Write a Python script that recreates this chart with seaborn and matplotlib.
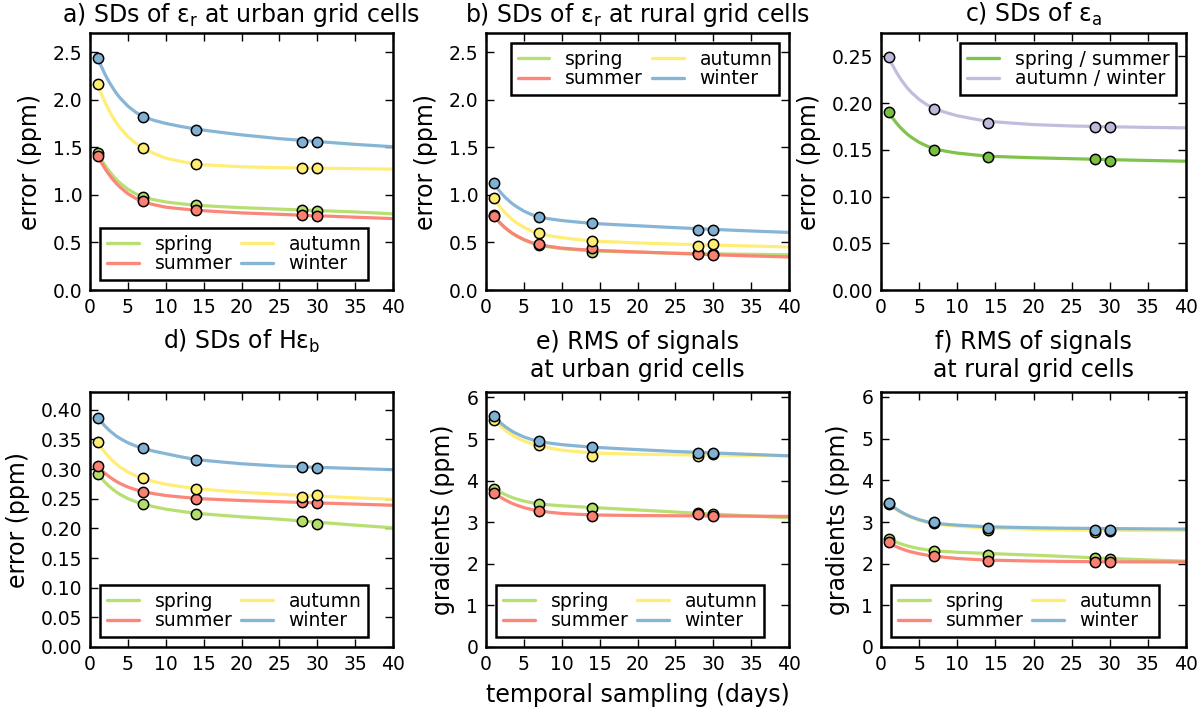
import matplotlib
matplotlib.use("Agg")
import matplotlib.pyplot as plt
import seaborn as sns

# ---------------- data ----------------
days = [1, 7, 14, 28, 30]
curve_days = [1, 1.5, 2, 2.5, 3, 3.5, 4, 5, 6, 7, 8.5, 10, 12, 14, 17, 20, 25, 30, 35, 40]
seasons = ["spring", "summer", "autumn", "winter"]
season_colors = ["#b3de69", "#fb8072", "#ffed6f", "#80b1d3"]
c_groups = ["spring / summer", "autumn / winter"]
c_colors = ["#78c040", "#bebada"]

# a) SDs of eps_r, urban
a_spring_pts = [1.44, 0.98, 0.89, 0.84, 0.83]
a_summer_pts = [1.41, 0.93, 0.84, 0.79, 0.78]
a_autumn_pts = [2.16, 1.49, 1.32, 1.28, 1.28]
a_winter_pts = [2.44, 1.82, 1.68, 1.56, 1.56]
a_spring_fit = [1.44, 1.370, 1.307, 1.252, 1.203, 1.159, 1.121, 1.059, 1.012, 0.975, 0.948, 0.925, 0.906, 0.89, 0.877, 0.865, 0.85, 0.835, 0.82, 0.80]
a_summer_fit = [1.41, 1.337, 1.272, 1.214, 1.163, 1.117, 1.078, 1.012, 0.964, 0.925, 0.895, 0.87, 0.853, 0.838, 0.823, 0.81, 0.795, 0.78, 0.765, 0.75]
a_autumn_fit = [2.16, 2.060, 1.969, 1.889, 1.818, 1.755, 1.701, 1.611, 1.544, 1.49, 1.432, 1.385, 1.351, 1.32, 1.307, 1.295, 1.285, 1.28, 1.275, 1.27]
a_winter_fit = [2.44, 2.347, 2.263, 2.189, 2.124, 2.065, 2.015, 1.932, 1.870, 1.82, 1.781, 1.75, 1.718, 1.69, 1.659, 1.63, 1.59, 1.56, 1.53, 1.505]

# b) SDs of eps_r, rural
b_spring_pts = [0.785, 0.47, 0.40, 0.39, 0.38]
b_summer_pts = [0.78, 0.48, 0.44, 0.375, 0.37]
b_autumn_pts = [0.965, 0.60, 0.52, 0.465, 0.485]
b_winter_pts = [1.12, 0.77, 0.70, 0.635, 0.635]
b_spring_fit = [0.78, 0.734, 0.692, 0.654, 0.622, 0.592, 0.568, 0.526, 0.495, 0.47, 0.451, 0.435, 0.423, 0.412, 0.404, 0.397, 0.387, 0.38, 0.375, 0.37]
b_summer_fit = [0.78, 0.734, 0.693, 0.656, 0.624, 0.595, 0.571, 0.530, 0.499, 0.475, 0.456, 0.44, 0.428, 0.418, 0.409, 0.40, 0.385, 0.37, 0.358, 0.347]
b_autumn_fit = [0.965, 0.909, 0.858, 0.813, 0.774, 0.738, 0.708, 0.658, 0.62, 0.59, 0.568, 0.55, 0.531, 0.515, 0.505, 0.495, 0.482, 0.472, 0.462, 0.452]
b_winter_fit = [1.12, 1.067, 1.019, 0.976, 0.939, 0.905, 0.877, 0.829, 0.793, 0.765, 0.746, 0.73, 0.714, 0.70, 0.687, 0.675, 0.655, 0.637, 0.62, 0.605]

# c) SDs of eps_a
c_ss_pts = [0.191, 0.150, 0.142, 0.140, 0.138]
c_aw_pts = [0.249, 0.194, 0.179, 0.174, 0.174]
c_ss_fit = [0.190, 0.1842, 0.1789, 0.1742, 0.1701, 0.1664, 0.1633, 0.1580, 0.1541, 0.151, 0.1485, 0.1465, 0.1448, 0.1432, 0.1423, 0.1415, 0.1405, 0.1395, 0.1386, 0.1378]
c_aw_fit = [0.249, 0.2408, 0.2333, 0.2267, 0.2210, 0.2157, 0.2113, 0.2039, 0.1984, 0.194, 0.1899, 0.1865, 0.1833, 0.1805, 0.1787, 0.177, 0.1755, 0.1747, 0.174, 0.1735]

# d) SDs of H eps_b
d_spring_pts = [0.292, 0.241, 0.224, 0.212, 0.208]
d_summer_pts = [0.305, 0.262, 0.249, 0.244, 0.242]
d_autumn_pts = [0.345, 0.285, 0.267, 0.253, 0.256]
d_winter_pts = [0.387, 0.336, 0.315, 0.304, 0.302]
d_spring_fit = [0.292, 0.2844, 0.2775, 0.2713, 0.266, 0.2611, 0.2571, 0.2502, 0.2451, 0.241, 0.2363, 0.2325, 0.2288, 0.2255, 0.2224, 0.2195, 0.2155, 0.2105, 0.2055, 0.201]
d_summer_fit = [0.305, 0.2986, 0.2927, 0.2876, 0.2831, 0.279, 0.2755, 0.2697, 0.2654, 0.262, 0.2584, 0.2555, 0.2529, 0.2505, 0.2487, 0.247, 0.245, 0.243, 0.241, 0.239]
d_autumn_fit = [0.345, 0.3359, 0.3276, 0.3203, 0.3139, 0.3081, 0.3032, 0.295, 0.2889, 0.284, 0.2788, 0.2745, 0.2705, 0.267, 0.2639, 0.261, 0.2575, 0.2545, 0.2515, 0.249]
d_winter_fit = [0.387, 0.3792, 0.3722, 0.3659, 0.3605, 0.3555, 0.3514, 0.3444, 0.3392, 0.335, 0.330, 0.326, 0.3207, 0.316, 0.3124, 0.309, 0.305, 0.303, 0.301, 0.299]

# e) RMS of signals, urban
e_spring_pts = [3.81, 3.44, 3.35, 3.21, 3.19]
e_summer_pts = [3.71, 3.28, 3.15, 3.19, 3.14]
e_autumn_pts = [5.46, 4.86, 4.60, 4.60, 4.64]
e_winter_pts = [5.56, 4.96, 4.81, 4.66, 4.66]
e_spring_fit = [3.82, 3.763, 3.712, 3.666, 3.626, 3.59, 3.56, 3.508, 3.47, 3.44, 3.415, 3.395, 3.374, 3.355, 3.324, 3.295, 3.245, 3.195, 3.15, 3.105]
e_summer_fit = [3.72, 3.653, 3.592, 3.538, 3.491, 3.448, 3.412, 3.351, 3.306, 3.27, 3.237, 3.21, 3.191, 3.175, 3.167, 3.16, 3.155, 3.15, 3.145, 3.14]
e_autumn_fit = [5.47, 5.376, 5.29, 5.215, 5.149, 5.089, 5.038, 4.953, 4.89, 4.84, 4.78, 4.73, 4.696, 4.665, 4.649, 4.635, 4.622, 4.612, 4.605, 4.598]
e_winter_fit = [5.55, 5.459, 5.376, 5.303, 5.239, 5.181, 5.132, 5.05, 4.989, 4.94, 4.899, 4.865, 4.833, 4.805, 4.774, 4.745, 4.70, 4.665, 4.63, 4.595]

# f) RMS of signals, rural
f_spring_pts = [2.60, 2.30, 2.22, 2.14, 2.11]
f_summer_pts = [2.51, 2.19, 2.06, 2.05, 2.04]
f_autumn_pts = [3.44, 2.98, 2.82, 2.76, 2.78]
f_winter_pts = [3.45, 2.99, 2.86, 2.81, 2.81]
f_spring_fit = [2.60, 2.557, 2.517, 2.483, 2.452, 2.425, 2.401, 2.362, 2.333, 2.31, 2.291, 2.275, 2.259, 2.245, 2.224, 2.205, 2.165, 2.125, 2.09, 2.06]
f_summer_fit = [2.50, 2.452, 2.409, 2.37, 2.337, 2.306, 2.281, 2.238, 2.206, 2.18, 2.15, 2.125, 2.104, 2.085, 2.074, 2.063, 2.052, 2.045, 2.042, 2.04]
f_autumn_fit = [3.44, 3.367, 3.302, 3.244, 3.193, 3.147, 3.108, 3.042, 2.994, 2.955, 2.925, 2.90, 2.876, 2.855, 2.839, 2.825, 2.81, 2.80, 2.795, 2.79]
f_winter_fit = [3.45, 3.378, 3.313, 3.256, 3.205, 3.16, 3.121, 3.056, 3.008, 2.97, 2.945, 2.925, 2.904, 2.885, 2.873, 2.862, 2.85, 2.842, 2.836, 2.83]

x_ticks = [0, 5, 10, 15, 20, 25, 30, 35, 40]

# ---------------- style ----------------
sns.set_style("white")
plt.rcParams.update({
    "font.family": ["DejaVu Sans"],
    "mathtext.default": "regular",
    "axes.edgecolor": "black",
    "axes.linewidth": 1.8,
    "xtick.direction": "in",
    "ytick.direction": "in",
    "xtick.top": True,
    "ytick.right": True,
    "xtick.bottom": True,
    "ytick.left": True,
    "xtick.major.size": 6,
    "ytick.major.size": 6,
    "xtick.major.width": 1.0,
    "ytick.major.width": 1.0,
    "xtick.major.pad": 6,
    "ytick.major.pad": 5.5,
    "xtick.labelsize": 13.5,
    "ytick.labelsize": 13.5,
    "xtick.color": "black",
    "ytick.color": "black",
    "text.color": "black",
    "axes.labelcolor": "black",
})

fig = plt.figure(figsize=(12, 7.1), dpi=100)

W, H = 1200.0, 710.0
def box(left, top, right, bottom):
    return [left / W, 1 - bottom / H, (right - left) / W, (bottom - top) / H]

pos = {
    "a": box(90, 33, 393, 290), "b": box(486, 33, 789, 290), "c": box(881, 33, 1186, 290),
    "d": box(90, 392, 393, 647), "e": box(486, 392, 789, 647), "f": box(881, 392, 1186, 647),
}

def draw(key, names, colors, pts_list, fit_list, ylim, yticks, title, title_pad,
         ylabel, loc, ncol):
    ax = fig.add_axes(pos[key])
    for name, col, fit in zip(names, colors, fit_list):
        sns.lineplot(x=curve_days, y=fit, color=col, linewidth=2.3, ax=ax,
                     zorder=2, alpha=0.95)
    for name, col, pts in zip(names, colors, pts_list):
        sns.scatterplot(x=days, y=pts, color=col, edgecolor="black", linewidth=1.1,
                        s=55, ax=ax, zorder=3, legend=False)
    ax.set_xlim(0, 40)
    ax.set_xticks(x_ticks)
    ax.set_ylim(*ylim)
    ax.set_yticks(yticks)
    ax.set_ylabel(ylabel, fontsize=17, labelpad=8)
    ax.set_title(title, fontsize=17, pad=title_pad)
    for sp in ax.spines.values():
        sp.set_visible(True)
        sp.set_linewidth(1.8)
        sp.set_color("black")
    handles = ax.get_lines()[:len(names)]
    leg = ax.legend(handles, names, loc=loc, ncol=ncol, fontsize=13.5,
                    frameon=True, fancybox=False, framealpha=1, edgecolor="black",
                    handlelength=1.7, handletextpad=0.85, columnspacing=0.45,
                    labelspacing=0.04, borderpad=0.34, borderaxespad=0.55)
    leg.get_frame().set_linewidth(1.8)
    for lh in leg.get_lines():
        lh.set_linewidth(2.4)
    return ax

err_ticks = [0.0, 0.5, 1.0, 1.5, 2.0, 2.5]
draw("a", seasons, season_colors,
     [a_spring_pts, a_summer_pts, a_autumn_pts, a_winter_pts],
     [a_spring_fit, a_summer_fit, a_autumn_fit, a_winter_fit],
     (0, 2.7), err_ticks, "a) SDs of ε$_{r}$ at urban grid cells", 8,
     "error (ppm)", "lower left", 2)
draw("b", seasons, season_colors,
     [b_spring_pts, b_summer_pts, b_autumn_pts, b_winter_pts],
     [b_spring_fit, b_summer_fit, b_autumn_fit, b_winter_fit],
     (0, 2.7), err_ticks, "b) SDs of ε$_{r}$ at rural grid cells", 8,
     "error (ppm)", "upper right", 2)
draw("c", c_groups, c_colors,
     [c_ss_pts, c_aw_pts], [c_ss_fit, c_aw_fit],
     (0, 0.275), [0.0, 0.05, 0.10, 0.15, 0.20, 0.25], "c) SDs of ε$_{a}$", 8,
     "error (ppm)", "upper right", 1)
draw("d", seasons, season_colors,
     [d_spring_pts, d_summer_pts, d_autumn_pts, d_winter_pts],
     [d_spring_fit, d_summer_fit, d_autumn_fit, d_winter_fit],
     (0, 0.43), [0.0, 0.05, 0.10, 0.15, 0.20, 0.25, 0.30, 0.35, 0.40],
     "d) SDs of Hε$_{b}$", 31, "error (ppm)", "lower left", 2)
ax_e = draw("e", seasons, season_colors,
     [e_spring_pts, e_summer_pts, e_autumn_pts, e_winter_pts],
     [e_spring_fit, e_summer_fit, e_autumn_fit, e_winter_fit],
     (0, 6.13), [0, 1, 2, 3, 4, 5, 6], "e) RMS of signals\nat urban grid cells", 11,
     "gradients (ppm)", "lower left", 2)
draw("f", seasons, season_colors,
     [f_spring_pts, f_summer_pts, f_autumn_pts, f_winter_pts],
     [f_spring_fit, f_summer_fit, f_autumn_fit, f_winter_fit],
     (0, 6.12), [0, 1, 2, 3, 4, 5, 6], "f) RMS of signals\nat rural grid cells", 11,
     "gradients (ppm)", "lower left", 2)

ax_e.set_xlabel("temporal sampling (days)", fontsize=17, labelpad=6)

fig.savefig("out.png", dpi=100)
